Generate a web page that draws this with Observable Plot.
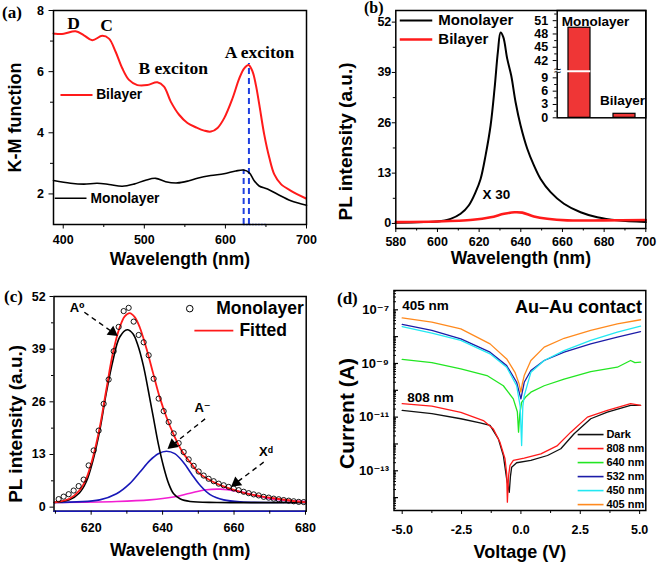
<!DOCTYPE html>
<html>
<head>
<meta charset="utf-8">
<script src="https://cdn.jsdelivr.net/npm/d3@7"></script>
<script src="https://cdn.jsdelivr.net/npm/@observablehq/plot@0.6"></script>
<style>
html,body{margin:0;padding:0;background:#fff;}
#fig{position:relative;width:661px;height:565px;overflow:hidden;background:#fff;}
#fig svg{position:absolute;overflow:visible;}
.plab{position:absolute;font-family:"Liberation Serif","Times New Roman",serif;font-weight:bold;font-size:17px;line-height:1;color:#000;}
</style>
</head>
<body>
<div id="fig">
  <div class="plab" style="left:2px;top:4px">(a)</div>
  <div class="plab" style="left:364px;top:0px;font-size:16px">(b)</div>
  <div class="plab" style="left:4px;top:288px">(c)</div>
  <div class="plab" style="left:337px;top:290px">(d)</div>
</div>
<script>
// ---------------- DATA ----------------
// (a) K-M function
const aBiWl   = [388, 390.5, 400.7, 415.2, 425.5, 435.8, 448.1, 456.4, 464.6, 472.8, 481.1, 491.4, 503.7, 516.1, 524.3, 532.6, 542.9, 553.2, 563.5, 573.8, 582.1, 590.3, 598.5, 608.8, 617.1, 623.2, 628.6, 633.5, 637.6, 641.8, 647.9, 654.1, 660.3, 668.5, 680.9, 699.4];
const aBiKM   = [7.25, 7.24, 7.24, 7.32, 7.19, 7.03, 7.17, 7.08, 6.65, 6.11, 5.73, 5.56, 5.56, 5.65, 5.51, 5.02, 4.59, 4.32, 4.18, 4.07, 4.04, 4.16, 4.48, 5.13, 5.78, 6.11, 6.22, 6.0, 5.56, 4.92, 3.94, 3.19, 2.64, 2.32, 2.1, 1.85];
const aMonoWl = [388, 409, 425.5, 441.9, 456.4, 472.8, 487.2, 501.6, 514, 526.3, 540.7, 555.1, 565.4, 581.9, 598.3, 612.8, 622.3, 629.3, 635.5, 641.6, 651.9, 664.3, 680.7, 700];
const aMonoKM = [2.44, 2.35, 2.32, 2.35, 2.31, 2.25, 2.32, 2.45, 2.51, 2.40, 2.36, 2.43, 2.51, 2.60, 2.66, 2.75, 2.78, 2.70, 2.43, 2.26, 2.16, 1.99, 1.78, 1.63];
const aPeakWl  = [622.5, 629];      // A exciton positions (monolayer, bilayer)
const aPeakKM  = [2.78, 6.27];
const aLabels  = ["D", "C", "B exciton", "A exciton"];
const aLabelWl = [412.7, 453.4, 535.6, 642];
const aLabelKM = [7.58, 7.51, 6.12, 6.64];

// (b) PL spectra
const bMonoWl = [580, 593.5, 600, 606.3, 611.1, 615, 618.3, 620.7, 623.1, 625.5, 627.4, 629, 630.3, 631.6, 633.5, 635.4, 637.5, 639.9, 643.1, 646.3, 649.5, 654.3, 660.7, 668.7, 676.7, 686.3, 700];
const bMonoPL = [0.18, 0.35, 0.5, 1.2, 2.5, 4.65, 8.1, 11.5, 17.6, 25.3, 34.8, 44.3, 49.3, 48.1, 42.5, 38.2, 31.3, 25.3, 19.3, 15.0, 11.5, 8.1, 5.1, 2.9, 1.6, 0.8, 0.35];
const bBiWl   = [580, 600, 617, 625.5, 632, 637, 640.7, 646.3, 652.7, 662.3, 680, 700];
const bBiPL   = [0.35, 0.5, 0.95, 1.6, 2.5, 2.9, 2.8, 1.8, 1.2, 0.8, 0.8, 0.9];
// (b) inset
const insetCats = ["Monolayer", "Bilayer"];
const insetVals = [49.4, 0.9];

// (c) PL fit of monolayer
const cDataWl = [610.9, 612.3, 613.7, 615.1, 616.5, 617.9, 619.3, 620.7, 622.1, 623.5, 624.9, 626.3, 627.7, 629.1, 630.5, 631.9, 633.3, 634.7, 636.1, 637.5, 638.9, 640.3, 641.7, 643.1, 644.5, 645.9, 647.3, 648.7, 650.1, 651.5, 652.9, 654.3, 655.7, 657.1, 658.5, 659.9, 661.3, 662.7, 664.1, 665.5, 666.9, 668.3, 669.7, 671.1, 672.5, 673.9, 675.3, 676.7, 678.1, 679.5];
const cDataPL = [1.98, 2.6, 3.2, 4.1, 5.2, 6.8, 10.3, 14.0, 18.9, 25.5, 31.5, 38.5, 44.5, 48.4, 49.2, 45.8, 42.5, 40.7, 37.5, 31.7, 26.8, 23.7, 21.0, 18.2, 15.8, 13.6, 11.8, 10.2, 8.8, 7.8, 7.0, 6.4, 5.8, 5.4, 5.0, 4.6, 4.2, 3.8, 3.45, 3.15, 2.9, 2.55, 2.35, 2.1, 1.95, 1.75, 1.6, 1.45, 1.3, 1.25];
const cFitWl  = [609.7, 613.9, 616.7, 618.6, 620.5, 622.4, 624.2, 626.1, 628, 629.4, 630.8, 632.2, 633.6, 635.5, 637.4, 639.2, 641.1, 643, 645.3, 647.7, 650.5, 654.2, 658, 662.7, 667.4, 672.1, 676.8, 680.2];
const cFitPL  = [1.16, 2.07, 4.1, 7.0, 12.3, 19.7, 28.8, 38.1, 44.4, 47.1, 47.9, 46.9, 44.4, 39.1, 32.9, 27.1, 22.2, 18.1, 14.0, 11.1, 8.2, 6.2, 4.8, 3.55, 2.7, 2.07, 1.5, 1.16];
const cA0Wl   = [609.7, 613.9, 616.7, 618.6, 620.5, 622.4, 624.2, 626.1, 628, 630.1, 631.7, 633.1, 634.6, 636, 637.4, 638.8, 640.3, 641.7, 643.1, 645, 647.7, 655.2, 680.2];
const cA0PL   = [1.16, 1.8, 3.5, 6.2, 11.5, 18.9, 28.0, 36.2, 42.0, 43.8, 42.8, 39.9, 35.0, 28.8, 22.2, 15.6, 9.9, 5.8, 3.3, 2.0, 1.4, 1.16, 1.16];
const cAmWl   = [609.7, 622.4, 627.1, 630.8, 633.6, 636.4, 638.8, 641.1, 643.4, 645.8, 648.1, 650.5, 653.3, 657.1, 661.8, 680.2];
const cAmPL   = [1.16, 1.8, 3.3, 5.8, 8.6, 11.5, 13.2, 13.8, 13.2, 11.1, 8.2, 5.4, 3.1, 1.8, 1.3, 1.16];
const cXdWl   = [609.7, 627.1, 636.4, 643, 647.7, 652.3, 656.1, 660.8, 665.5, 670.2, 674.8, 680.2];
const cXdPL   = [1.16, 1.4, 1.8, 2.5, 3.45, 4.3, 4.44, 3.95, 3.0, 2.07, 1.65, 1.4];

// (d) I-V curves, log10 of current (A)
const dSeries = ["Dark", "808 nm", "640 nm", "532 nm", "450 nm", "405 nm"];
const dColors = ["#111111", "#ff1a1a", "#22e622", "#1c1ca8", "#22e8f2", "#ff8a1e"];
const dDarkV   = [-5.0, -3.75, -2.53, -1.72, -1.3, -0.95, -0.74, -0.6, -0.49, -0.44, -0.39, -0.18, 0.42, 1.12, 1.68, 2.24, 2.94, 3.64, 4.62, 5.04];
const dDarkLog = [-10.75, -10.87, -11.06, -11.21, -11.31, -11.81, -12.43, -13.30, -13.80, -13.2, -12.87, -12.7, -12.61, -12.43, -12.18, -11.62, -11.06, -10.81, -10.56, -10.56];
const d808V    = [-5.0, -3.75, -2.53, -1.58, -1.16, -0.88, -0.67, -0.6, -0.57, -0.52, -0.46, -0.32, 0.14, 0.84, 1.54, 2.1, 2.8, 3.64, 4.62, 5.04];
const d808Log  = [-10.50, -10.59, -10.82, -11.13, -11.44, -11.94, -12.55, -13.1, -14.17, -13.2, -12.8, -12.61, -12.53, -12.37, -12.06, -11.56, -11.0, -10.75, -10.5, -10.56];
const d640V    = [-5.0, -3.75, -2.53, -1.43, -0.74, -0.32, -0.15, -0.1, -0.05, 0.03, 0.2, 0.42, 0.98, 1.82, 2.94, 4.06, 4.62, 4.8, 5.04];
const d640Log  = [-8.85, -8.97, -9.20, -9.45, -9.83, -10.32, -10.8, -11.56, -10.9, -10.45, -10.25, -10.07, -9.83, -9.58, -9.30, -9.14, -8.89, -8.97, -8.95];
const d532V    = [-5.0, -3.75, -2.53, -1.3, -0.6, -0.18, 0.0, 0.14, 0.42, 0.98, 1.82, 2.94, 4.06, 5.04];
const d532Log  = [-7.54, -7.77, -8.08, -8.58, -9.08, -9.70, -10.32, -9.70, -9.26, -8.89, -8.58, -8.27, -8.02, -7.81];
const d450V    = [-5.0, -3.75, -2.53, -1.3, -0.6, -0.18, -0.03, 0.03, 0.08, 0.14, 0.42, 0.98, 1.82, 2.94, 4.06, 5.04];
const d450Log  = [-7.63, -7.87, -8.14, -8.64, -9.14, -9.83, -10.6, -12.06, -10.6, -10.2, -9.33, -8.89, -8.52, -8.14, -7.83, -7.61];
const d405V    = [-5.0, -3.75, -2.53, -1.3, -0.6, -0.25, -0.08, 0.0, 0.06, 0.14, 0.42, 0.98, 1.82, 2.94, 4.06, 5.04];
const d405Log  = [-7.30, -7.46, -7.71, -8.27, -8.83, -9.33, -9.75, -10.07, -9.75, -9.45, -8.89, -8.39, -8.06, -7.77, -7.52, -7.37];

// ---------------- DRAWING ----------------
const sans  = '"Liberation Sans", Arial, Helvetica, "DejaVu Sans", sans-serif';
const serif = '"Liberation Serif", "Times New Roman", Times, serif';
const baseStyle = {fontFamily: sans, fontSize: "12.5px", fontWeight: "bold", background: "none", overflow: "visible", color: "#000"};
const fig = document.getElementById("fig");
function put(svg, left, top) {
  svg.style.position = "absolute"; svg.style.left = left + "px"; svg.style.top = top + "px";
  fig.appendChild(svg);
}
function yLabel(t, dx, dy, size) {
  return Plot.text([t], {frameAnchor: "left", rotate: -90, dx, dy, fontSize: size, fontWeight: "bold", text: d => d, textAnchor: "middle", lineAnchor: "middle"});
}
function xLabel(t, dy, size) {
  return Plot.text([t], {frameAnchor: "bottom", dy, fontSize: size, fontWeight: "bold", text: d => d, textAnchor: "middle", lineAnchor: "middle"});
}
const blank = () => "";
const intFmt = d => String(d);
const RED = "#ff1a1a";
const BLUE = "#1f3fe0";

// ---- (a)
put(Plot.plot({
  width: 330, height: 280, marginLeft: 53, marginRight: 24, marginTop: 10, marginBottom: 56,
  style: baseStyle,
  x: {domain: [388, 700]},
  y: {domain: [1, 8]},
  marks: [
    Plot.ruleX(aPeakWl, {x: aPeakWl, y1: 1, y2: aPeakKM, stroke: BLUE, strokeWidth: 2, strokeDasharray: "6,4"}),
    Plot.ruleY([1], {x1: 622.5, x2: 651, stroke: BLUE, strokeWidth: 1.5, strokeDasharray: "1.5,1.5"}),
    Plot.line(aMonoWl, {x: aMonoWl, y: aMonoKM, stroke: "#000", strokeWidth: 1.6, curve: "catmull-rom"}),
    Plot.line(aBiWl, {x: aBiWl, y: aBiKM, stroke: RED, strokeWidth: 2, curve: "catmull-rom"}),
    Plot.frame({stroke: "#000", strokeWidth: 1.5}),
    Plot.axisX({ticks: [400, 500, 600, 700], tickFormat: intFmt, tickSize: 4.5, tickPadding: 6.5, label: null, fontSize: 12.5, fontWeight: "bold"}),
    Plot.axisX({ticks: [450, 550, 650], tickSize: 3, tickFormat: blank, label: null}),
    Plot.axisY({ticks: [2, 4, 6, 8], tickFormat: intFmt, tickSize: 4.5, tickPadding: 5, label: null, fontSize: 12.5, fontWeight: "bold"}),
    Plot.axisY({ticks: [3, 5, 7], tickSize: 3, tickFormat: blank, label: null}),
    yLabel("K-M function", -38, 0, 18),
    xLabel("Wavelength (nm)", 35, 17.5),
    Plot.text(aLabels, {x: aLabelWl, y: aLabelKM, text: d => d, fontFamily: serif, fontSize: 17.5, fontWeight: "bold"}),
    Plot.link([0], {x1: 396.6, x2: 436.1, y1: 5.24, y2: 5.24, stroke: RED, strokeWidth: 2}),
    Plot.text(["Bilayer"], {x: 440.6, y: 5.24, text: d => d, textAnchor: "start", fontSize: 13.8, fontWeight: "bold"}),
    Plot.link([0], {x1: 389.5, x2: 428.7, y1: 1.86, y2: 1.86, stroke: "#000", strokeWidth: 1.6}),
    Plot.text(["Monolayer"], {x: 433.6, y: 1.86, text: d => d, textAnchor: "start", fontSize: 13.8, fontWeight: "bold"})
  ]
}), 0, 0);

// ---- (b) main
put(Plot.plot({
  width: 331, height: 280, marginLeft: 65.3, marginRight: 15.7, marginTop: 10, marginBottom: 52,
  style: baseStyle,
  x: {domain: [580, 700]},
  y: {domain: [-1.3, 55]},
  marks: [
    Plot.line(bMonoWl, {x: bMonoWl, y: bMonoPL, stroke: "#000", strokeWidth: 2, curve: "catmull-rom"}),
    Plot.line(bBiWl, {x: bBiWl, y: bBiPL, stroke: RED, strokeWidth: 2.6, curve: "catmull-rom"}),
    Plot.frame({stroke: "#000", strokeWidth: 1.5}),
    Plot.axisX({ticks: [580, 600, 620, 640, 660, 680, 700], tickFormat: intFmt, tickSize: 4, tickPadding: 5, label: null, fontSize: 12.5, fontWeight: "bold"}),
    Plot.axisX({ticks: [590, 610, 630, 650, 670, 690], tickSize: 2.5, tickFormat: blank, label: null}),
    Plot.axisY({ticks: [0, 13, 26, 39, 52], tickFormat: intFmt, tickSize: 3.5, tickPadding: 1, label: null, fontSize: 12.5, fontWeight: "bold"}),
    Plot.axisY({ticks: [6.5, 19.5, 32.5, 45.5], tickSize: 2.5, tickFormat: blank, label: null}),
    yLabel("PL intensity (a.u.)", -50, 22, 19),
    xLabel("Wavelength (nm)", 30, 17.5),
    Plot.link([0], {x1: 581.9, x2: 597.5, y1: 52.4, y2: 52.4, stroke: "#000", strokeWidth: 2}),
    Plot.text(["Monolayer"], {x: 600.4, y: 52.4, text: d => d, textAnchor: "start", fontSize: 15, fontWeight: "bold"}),
    Plot.link([0], {x1: 581.9, x2: 597.5, y1: 47.5, y2: 47.5, stroke: RED, strokeWidth: 2.6}),
    Plot.text(["Bilayer"], {x: 600.4, y: 47.5, text: d => d, textAnchor: "start", fontSize: 15, fontWeight: "bold"}),
    Plot.text(["X 30"], {x: 628.3, y: 7.4, text: d => d, fontSize: 13.5, fontWeight: "bold"})
  ]
}), 330, 0);

// ---- (b) inset with broken axis
put(Plot.plot({
  width: 161, height: 130, marginLeft: 56.7, marginRight: 15.7, marginTop: 10, marginBottom: 12.7,
  style: baseStyle,
  x: {domain: insetCats, paddingInner: 0.513, paddingOuter: 0.235, axis: null},
  y: {type: "linear", domain: [0, 10, 40, 53.3], range: [117.3, 72.9, 68.9, 10]},
  marks: [
    Plot.barY(insetCats, {x: insetCats, y: insetVals, fill: "#ef3636", stroke: "#000", strokeWidth: 1.2}),
    Plot.frame({stroke: "#000", strokeWidth: 1.5}),
    Plot.ruleY([26.5], {stroke: "#fff", strokeWidth: 2, insetLeft: -4, insetRight: 55}),
    Plot.text(["≈"], {frameAnchor: "left", y: 26.5, text: d => d, fontSize: 13, fontWeight: "normal", textAnchor: "middle"}),
    Plot.axisY({ticks: [0, 3, 6, 9, 42, 45, 48, 51], tickFormat: intFmt, tickSize: 4, tickPadding: 5, label: null, fontSize: 12.5, fontWeight: "bold"}),
    Plot.axisY({ticks: [1.5, 4.5, 7.5, 43.5, 46.5, 49.5, 52.5], tickSize: 2.5, tickFormat: blank, label: null}),
    Plot.text([insetCats[0]], {x: [insetCats[0]], y: [insetVals[0]], text: d => d, dx: 16, dy: -6, fontSize: 13.5, fontWeight: "bold"}),
    Plot.text([insetCats[1]], {x: [insetCats[1]], y: [insetVals[1]], text: d => d, dx: -2, dy: -13, fontSize: 13.5, fontWeight: "bold"})
  ]
}), 500, 0);

// ---- (c)
const cBlue = "#1818b8", cMag = "#f21ed2";
put(Plot.plot({
  width: 330, height: 285, marginLeft: 53.5, marginRight: 24.3, marginTop: 16, marginBottom: 54.3,
  style: baseStyle,
  x: {domain: [609.6, 680.2]},
  y: {domain: [-1, 52]},
  marks: [
    Plot.line(cXdWl, {x: cXdWl, y: cXdPL, stroke: cMag, strokeWidth: 1.6, curve: "catmull-rom"}),
    Plot.line(cAmWl, {x: cAmWl, y: cAmPL, stroke: cBlue, strokeWidth: 1.6, curve: "catmull-rom"}),
    Plot.line(cA0Wl, {x: cA0Wl, y: cA0PL, stroke: "#000", strokeWidth: 1.6, curve: "catmull-rom"}),
    Plot.line(cFitWl, {x: cFitWl, y: cFitPL, stroke: RED, strokeWidth: 1.8, curve: "catmull-rom"}),
    Plot.dot(cDataWl, {x: cDataWl, y: cDataPL, r: 2.6, stroke: "#000", strokeWidth: 0.9, fill: "none"}),
    Plot.frame({stroke: "#000", strokeWidth: 1.5}),
    Plot.ruleY([-1], {stroke: cBlue, strokeWidth: 1.6}),
    Plot.axisX({ticks: [620, 640, 660, 680], tickFormat: intFmt, tickSize: 4, tickPadding: 7.5, label: null, fontSize: 12.5, fontWeight: "bold"}),
    Plot.axisX({ticks: [610, 630, 650, 670], tickSize: 3, tickFormat: blank, label: null}),
    Plot.axisY({ticks: [0, 13, 26, 39, 52], tickFormat: intFmt, tickSize: 4, tickPadding: 4.3, label: null, fontSize: 12.5, fontWeight: "bold"}),
    Plot.axisY({ticks: [6.5, 19.5, 32.5, 45.5], tickSize: 2.5, tickFormat: blank, label: null}),
    yLabel("PL intensity (a.u.)", -38.3, 20, 19),
    xLabel("Wavelength (nm)", 39, 17.5),
    // legend
    Plot.dot([0], {x: 647.6, y: 49.0, r: 3.3, stroke: "#000", strokeWidth: 1, fill: "none"}),
    Plot.text(["Monolayer"], {x: 655, y: 49.0, text: d => d, textAnchor: "start", fontSize: 17.5, fontWeight: "bold"}),
    Plot.link([0], {x1: 648.9, x2: 659.8, y1: 43.6, y2: 43.6, stroke: RED, strokeWidth: 1.8}),
    Plot.text(["Fitted"], {x: 661.5, y: 43.6, text: d => d, textAnchor: "start", fontSize: 17.5, fontWeight: "bold"}),
    // annotations
    Plot.link([0, 1, 2], {x1: [618.1, 651.9, 668.3], y1: [48.1, 21.8, 11.1], x2: [626.0, 642.8, 660.6], y2: [43.2, 15.4, 6.0], stroke: "#000", strokeWidth: 1.4, strokeDasharray: "5,4"}),
    Plot.dot([0, 1, 2], {x: [626.0, 642.8, 660.6], y: [43.2, 15.4, 6.0], symbol: "triangle", r: 4.2, fill: "#000", rotate: [126, 231, 232]}),
    Plot.text(["A⁰", "A⁻", "Xᵈ"], {x: [616.1, 651.2, 668.9], y: [49.3, 24.6, 13.6], text: d => d, fontSize: 13, fontWeight: "bold"})
  ]
}), 0, 280);

// ---- (d)
const sup = {"-": "⁻", "0": "⁰", "1": "¹", "2": "²", "3": "³", "4": "⁴", "5": "⁵", "6": "⁶", "7": "⁷", "8": "⁸", "9": "⁹"};
const fmtPow = d => "10" + String(Math.round(Math.log10(d))).split("").map(c => sup[c]).join("");
const decades = [-14, -13, -12, -11, -10, -9, -8, -7].map(e => 10 ** e);
const minorLog = [];
for (const e of [-15, -14, -13, -12, -11, -10, -9, -8, -7]) for (let m = 2; m <= 9; m++) {
  const v = m * 10 ** e; if (v > 10 ** -14.48 && v < 10 ** -6.28) minorLog.push(v);
}
const dV = [dDarkV, d808V, d640V, d532V, d450V, d405V];
const dL = [dDarkLog, d808Log, d640Log, d532Log, d450Log, d405Log];
const dMarks = dSeries.map((s, k) =>
  Plot.line(dV[k], {x: dV[k], y: dL[k].map(v => 10 ** v), stroke: dColors[k], strokeWidth: 1.3}));
put(Plot.plot({
  width: 331, height: 285, marginLeft: 63.5, marginRight: 15.7, marginTop: 10, marginBottom: 55,
  style: baseStyle,
  x: {domain: [-5.345, 5.26]},
  y: {type: "log", domain: [10 ** -14.48, 10 ** -6.28]},
  marks: [
    ...dMarks,
    Plot.frame({stroke: "#000", strokeWidth: 1.5}),
    Plot.axisX({ticks: [-5, -2.5, 0, 2.5, 5], tickFormat: d => d.toFixed(1), tickSize: 4, tickPadding: 11, label: null, fontSize: 12.5, fontWeight: "bold"}),
    Plot.axisX({ticks: [-3.75, -1.25, 1.25, 3.75], tickSize: 3, tickFormat: blank, label: null}),
    Plot.axisY({ticks: [1e-13, 1e-11, 1e-9, 1e-7], tickSize: 0, tickPadding: 5, tickFormat: fmtPow, label: null, fontSize: 13, fontWeight: "bold"}),
    Plot.axisY({ticks: decades, tickSize: -4.5, tickFormat: blank, label: null, strokeWidth: 1.2}),
    Plot.axisY({ticks: minorLog, tickSize: -2.5, tickFormat: blank, label: null}),
    yLabel("Current (A)", -47, 13, 21),
    xLabel("Voltage (V)", 41.5, 18),
    Plot.text(["405 nm"], {x: -5.0, y: 10 ** -6.84, text: d => d, textAnchor: "start", fontSize: 13.5, fontWeight: "bold"}),
    Plot.text(["Au–Au contact"], {x: 5.10, y: 10 ** -6.9, text: d => d, textAnchor: "end", fontSize: 18, fontWeight: "bold"}),
    Plot.text(["808 nm"], {x: -4.79, y: 10 ** -10.28, text: d => d, textAnchor: "start", fontSize: 13.5, fontWeight: "bold"}),
    Plot.link(dSeries, {x1: 2.39, x2: 3.48, y1: (d, i) => 10 ** (-11.65 - 0.522 * i), y2: (d, i) => 10 ** (-11.65 - 0.522 * i), stroke: dColors, strokeWidth: 1.6}),
    Plot.text(dSeries, {x: 3.6, y: (d, i) => 10 ** (-11.65 - 0.522 * i), text: d => d, textAnchor: "start", fontSize: 11, fontWeight: "bold"})
  ]
}), 330, 280);
</script>
</body>
</html>
